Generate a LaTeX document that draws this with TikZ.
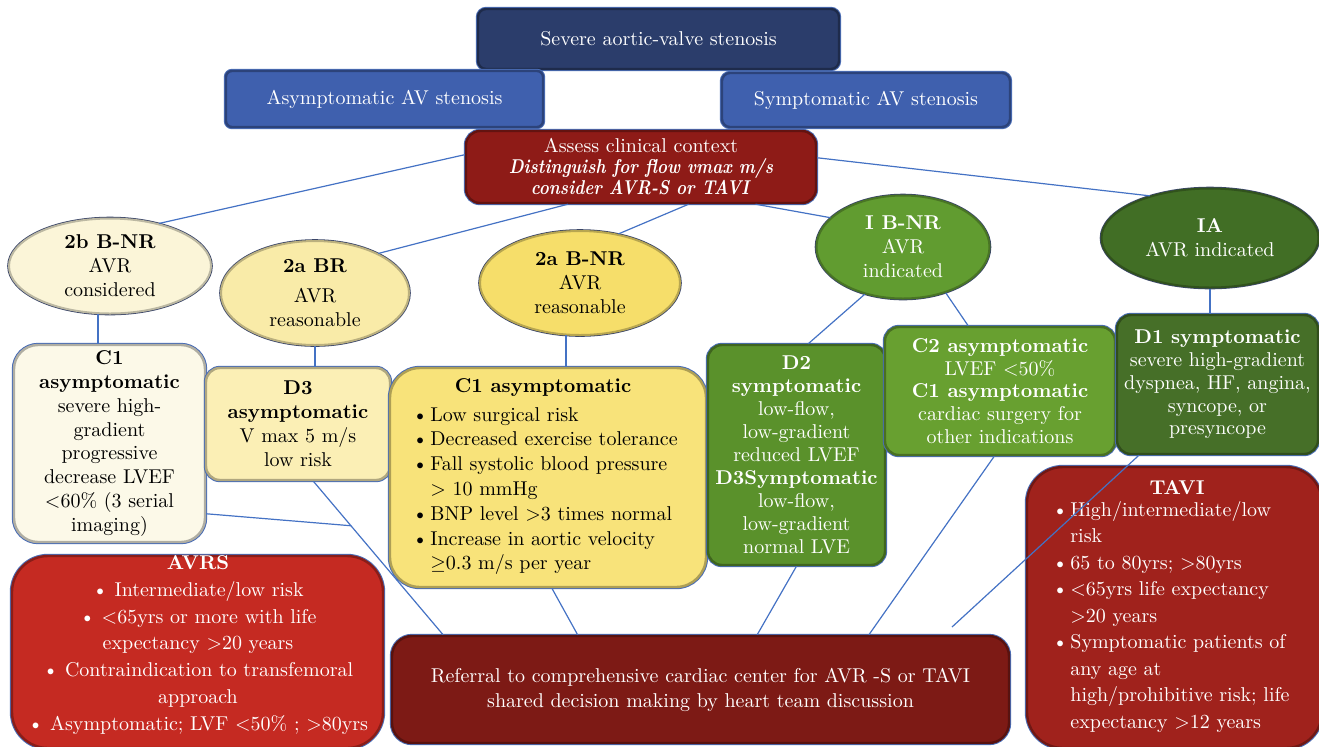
\documentclass[tikz,border=0pt]{standalone}
\usepackage{fontspec}
\usepackage{amssymb}
\usepackage{graphicx}
\usetikzlibrary{shapes.geometric,calc}

\definecolor{cTop}{HTML}{2B3D6B}
\definecolor{cMid}{HTML}{3F60AE}
\definecolor{cAssess}{HTML}{8E1B17}
\definecolor{cCream}{HTML}{FBF5D8}
\definecolor{cCreamBox}{HTML}{FCF9E8}
\definecolor{cPale}{HTML}{F9EBA8}
\definecolor{cPaleBox}{HTML}{FBEFB5}
\definecolor{cGold}{HTML}{F6DE6A}
\definecolor{cGoldBox}{HTML}{F8E37A}
\definecolor{cGrnA}{HTML}{619C30}
\definecolor{cGrnB}{HTML}{416E25}
\definecolor{cGrnD}{HTML}{5A912B}
\definecolor{cGrnC}{HTML}{68A030}
\definecolor{cGrnE}{HTML}{466F28}
\definecolor{cTavi}{HTML}{A0221C}
\definecolor{cAvrs}{HTML}{C52A22}
\definecolor{cRef}{HTML}{7D1A15}
\definecolor{linkblue}{HTML}{4472C4}
\definecolor{edgeblue}{HTML}{4A6DB5}
\definecolor{ovalrim}{HTML}{3B4668}

\newcommand{\bulit}{\makebox[9pt][l]{\textbullet}}
\newcommand{\bfit}[1]{\scalebox{0.85}[1]{\textbf{\textit{#1}}}}

\begin{document}
\begin{tikzpicture}[x=0.5pt, y=-0.5pt, font=\fontsize{10}{12}\selectfont,
    link/.style={draw=linkblue, line width=0.6pt},
    blk/.style={rectangle, rounded corners=7pt, fill=#1, draw=#1!70!black, line width=1.2pt,
      preaction={draw=edgeblue, line width=2.2pt}, align=center, inner sep=1.5pt},
    oval/.style={ellipse, fill=#1, draw=#1!75!black, line width=1pt,
      preaction={draw=ovalrim, line width=1.8pt}, align=center, inner sep=0pt}]
    \useasboundingbox (0,0) rectangle (1319,746);
    \clip (0,0) rectangle (1319,746);

    \node[blk=cTop, minimum width=180.5pt, minimum height=30pt, rounded corners=4pt, text=white] (top) at (658.5,39) {Severe aortic-valve stenosis};
    \node[blk=cMid, minimum width=158.5pt, minimum height=28pt, rounded corners=3pt, text=white] (asym) at (384.5,99) {Asymptomatic AV stenosis};
    \node[blk=cMid, minimum width=144pt, minimum height=27pt, rounded corners=4pt, text=white] (sym) at (866,100) {Symptomatic AV stenosis};
    \node[blk=cAssess, minimum width=175pt, minimum height=36pt, text=white, font=\fontsize{10}{10.5}\selectfont] (assess) at (641,167)
      {Assess clinical context\\ \bfit{Distinguish for flow vmax m/s}\\ \bfit{consider AVR-S or TAVI}};

    \node[oval=cCream, minimum width=101pt, minimum height=47.5pt] (e2b) at (110,266) {\textbf{2b B-NR}\\ AVR\\ considered};
    \node[oval=cPale, minimum width=94pt, minimum height=52pt] (e2aBR) at (315,293) {\textbf{2a BR}\\[3pt] AVR\\ reasonable};
    \node[oval=cGold, minimum width=100pt, minimum height=52pt] (e2aBNR) at (580,283) {\textbf{2a B-NR}\\ AVR\\ reasonable};
    \node[oval=cGrnA, minimum width=86.5pt, minimum height=51.5pt, text=white] (eIBNR) at (903,247) {\textbf{I B-NR}\\ AVR\\ indicated};
    \node[oval=cGrnB, minimum width=108.5pt, minimum height=49.5pt, text=white] (eIA) at (1210,238) {\textbf{IA}\\ AVR indicated};

    \node[blk=cCreamBox, minimum width=95.5pt, minimum height=98.5pt, rounded corners=12pt, font=\fontsize{10}{11.9}\selectfont] (c1l) at (109.5,443.5)
      {\textbf{C1}\\ \textbf{asymptomatic}\\ severe high-\\ gradient\\ progressive\\ decrease LVEF\\ <60\% (3 serial\\ imaging)};
    \node[blk=cPaleBox, minimum width=92pt, minimum height=56pt] (d3) at (298,424) {\textbf{D3}\\ \textbf{asymptomatic}\\ V max 5 m/s\\ low risk};
    \node[blk=cGoldBox, minimum width=158pt, minimum height=109.5pt, rounded corners=15pt] (c1y) at (548,477.5) {};
    \node (c1yt) at (543,388) {\textbf{C1 asymptomatic}};
    \node[anchor=west, align=left, inner sep=0pt, font=\fontsize{10}{12.4}\selectfont] (c1yl) at (412,491)
      {\bulit Low surgical risk\\ \bulit Decreased exercise tolerance\\ \bulit Fall systolic blood pressure\\ \hspace*{9pt}> 10 mmHg\\
       \bulit BNP level >3 times normal\\ \bulit Increase in aortic velocity\\ \hspace*{9pt}$\geq$0.3 m/s per year};
    \node[blk=cGrnD, minimum width=88.5pt, minimum height=110pt, text=white, inner sep=0.5pt, font=\fontsize{10}{11.5}\selectfont] (d2) at (796.5,455)
      {\textbf{D2}\\ \textbf{symptomatic}\\ low-flow,\\ low-gradient\\ reduced LVEF\\ \textbf{D3Symptomatic}\\ low-flow,\\ low-gradient\\ normal LVE};
    \node[blk=cGrnC, minimum width=115pt, minimum height=64pt, text=white, font=\fontsize{10}{11.4}\selectfont] (c2) at (1000,391)
      {\textbf{C2 asymptomatic}\\ LVEF <50\%\\ \textbf{C1 asymptomatic}\\ cardiac surgery for\\ other indications};
    \node[blk=cGrnE, minimum width=100.5pt, minimum height=69.5pt, text=white, font=\fontsize{10}{11.4}\selectfont] (d1) at (1217.5,384.5)
      {\textbf{D1 symptomatic}\\ severe high-gradient\\ dyspnea, HF, angina,\\ syncope, or\\ presyncope};

    \node[blk=cTavi, minimum width=147.5pt, minimum height=140.5pt, rounded corners=18pt] (tavi) at (1174.5,607.5) {};
    \node[text=white] (tavit) at (1177,488) {\textbf{TAVI}};
    \node[anchor=west, align=left, inner sep=0pt, text=white, font=\fontsize{10}{13.25}\selectfont] (tavil) at (1052,617)
      {\bulit High/intermediate/low\\ \hspace*{9pt}risk\\ \bulit 65 to 80yrs; >80yrs\\ \bulit <65yrs life expectancy\\ \hspace*{9pt}>20 years\\
       \bulit Symptomatic patients of\\ \hspace*{9pt}any age at\\ \hspace*{9pt}high/prohibitive risk; life\\ \hspace*{9pt}expectancy >12 years};
    \node[blk=cAvrs, minimum width=185.5pt, minimum height=96pt, rounded corners=18pt] (avrs) at (197.5,652) {};
    \node[align=center, inner sep=0pt, text=white, font=\fontsize{10}{13.4}\selectfont] (avrsl) at (198,645)
      {\textbf{AVRS}\\ \textbullet\ Intermediate/low risk\\ \textbullet\ <65yrs or more with life\\ expectancy >20 years\\
       \textbullet\ Contraindication to transfemoral\\ approach\\ \textbullet\ Asymptomatic; LVF <50\% ; >80yrs};
    \node[blk=cRef, minimum width=308.5pt, minimum height=53.5pt, rounded corners=10pt, text=white, font=\fontsize{10}{12.5}\selectfont] (ref) at (700.5,689.5)
      {Referral to comprehensive cardiac center for AVR -S or TAVI\\ shared decision making by heart team discussion};

    \coordinate (jn) at ($(d3.285)!0.29!(ref.168.1)$);
    \coordinate (tj) at (952,627);

    \draw[link] (assess.176.7) -- (e2b.41.9);
    \draw[link] (assess.207.5) -- (e2aBR.32);
    \draw[link] (assess.322.4) -- (e2aBNR.52);
    \draw[link] (assess.342.9) -- (eIBNR.158.3);
    \draw[link] (assess.3.9) -- (eIA.145.3);
    \draw[link] (e2b.256.8) -- (e2b.256.8 |- c1l.north);
    \draw[link] (e2aBR.south) -- (e2aBR.south |- d3.north);
    \draw[link] (e2aBNR.255) -- (e2aBNR.255 |- c1y.north);
    \draw[link] (eIBNR.231) -- (d2.84.5);
    \draw[link] (eIBNR.313.1) -- (c2.116.6);
    \draw[link] (eIA.south) -- (eIA.south |- d1.north);
    \draw[link] (d3.285) -- (ref.168.1);
    \draw[link] (c1l.324) -- (jn);
    \draw[link] (c1y.272.6) -- (ref.156.1);
    \draw[link] (d2.south) -- (ref.44.5);
    \draw[link] (c2.265.7) -- (ref.18.2);
    \draw[link] (d1.222.2) -- (tj);
  \end{tikzpicture}
\end{document}
